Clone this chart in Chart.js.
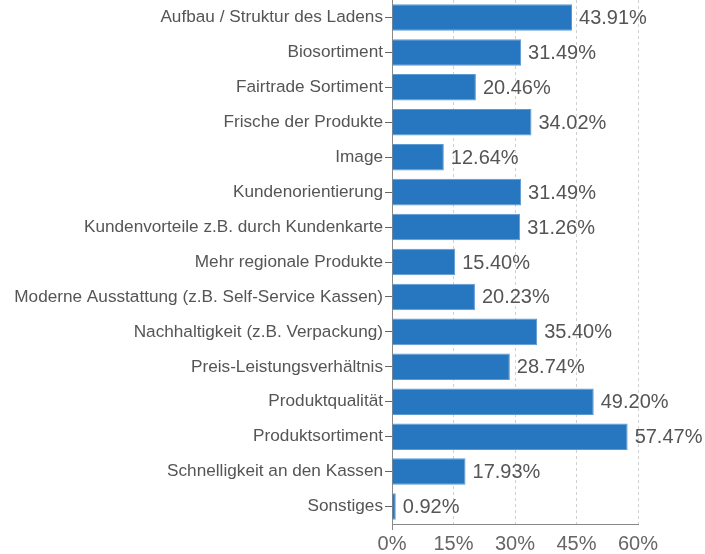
<!DOCTYPE html>
<html>
<head>
<meta charset="utf-8">
<script src="https://cdn.jsdelivr.net/npm/chart.js@4"></script>
<style>
  html, body { margin: 0; padding: 0; background: #fff; }
  #wrap { width: 705px; height: 554px; }
</style>
</head>
<body>
<div id="wrap"><canvas id="chart"></canvas></div>
<script>
// Kategorien und Werte (Prozent)
const categories = [
  'Aufbau / Struktur des Ladens',
  'Biosortiment',
  'Fairtrade Sortiment',
  'Frische der Produkte',
  'Image',
  'Kundenorientierung',
  'Kundenvorteile z.B. durch Kundenkarte',
  'Mehr regionale Produkte',
  'Moderne Ausstattung (z.B. Self-Service Kassen)',
  'Nachhaltigkeit (z.B. Verpackung)',
  'Preis-Leistungsverhältnis',
  'Produktqualität',
  'Produktsortiment',
  'Schnelligkeit an den Kassen',
  'Sonstiges'
];
const values = [43.91, 31.49, 20.46, 34.02, 12.64, 31.49, 31.26, 15.40, 20.23, 35.40, 28.74, 49.20, 57.47, 17.93, 0.92];
const xTicks = [0, 15, 30, 45, 60];

const FONT = '"Liberation Sans", Arial, Helvetica, sans-serif';

// Wertbeschriftung rechts neben den Balken
const valueLabels = {
  id: 'valueLabels',
  afterDatasetsDraw(chart) {
    const ctx = chart.ctx;
    const meta = chart.getDatasetMeta(0);
    ctx.save();
    ctx.font = '20px ' + FONT;
    ctx.fillStyle = '#555';
    ctx.textAlign = 'left';
    ctx.textBaseline = 'middle';
    meta.data.forEach((bar, i) => {
      ctx.fillText(values[i].toFixed(2) + '%', bar.x + 7, bar.y + 1);
    });
    ctx.restore();
  }
};

new Chart(document.getElementById('chart'), {
  type: 'bar',
  data: {
    labels: categories,
    datasets: [{
      data: values,
      backgroundColor: '#2676c0',
      borderColor: '#5b9ad3',
      borderWidth: 1,
      categoryPercentage: 1,
      barPercentage: 0.76
    }]
  },
  options: {
    indexAxis: 'y',
    responsive: true,
    maintainAspectRatio: false,
    animation: false,
    layout: { padding: { top: 0, right: 67, left: 0, bottom: 0 } },
    plugins: { legend: { display: false }, tooltip: { enabled: false } },
    scales: {
      x: {
        min: 0,
        max: 60,
        afterBuildTicks: (scale) => { scale.ticks = xTicks.map(v => ({ value: v })); },
        afterFit: (scale) => { scale.height = 30; scale.paddingLeft = 0; scale.paddingRight = 0; },
        grid: {
          color: (c) => c.tick && c.tick.value === 0 ? 'rgba(0,0,0,0)' : '#d0d0d0',
          tickColor: (c) => c.tick && c.tick.value === 0 ? '#888' : 'rgba(0,0,0,0)',
          lineWidth: 1,
          drawTicks: true,
          tickLength: 6,
          tickBorderDash: []
        },
        border: { display: true, color: '#888', width: 1, dash: [3, 3] },
        ticks: {
          color: '#666',
          font: { family: FONT, size: 20 },
          padding: 2,
          callback: (v) => v + '%'
        }
      },
      y: {
        afterFit: (scale) => { scale.width = 392; scale.paddingTop = 0; scale.paddingBottom = 0; },
        grid: {
          offset: false,
          drawOnChartArea: false,
          drawTicks: true,
          tickLength: 7,
          color: '#666'
        },
        border: { display: true, color: '#888', width: 1 },
        ticks: {
          color: '#555',
          font: { family: FONT, size: 17.2 },
          padding: 2,
          autoSkip: false
        }
      }
    }
  },
  plugins: [valueLabels]
});
</script>
</body>
</html>
